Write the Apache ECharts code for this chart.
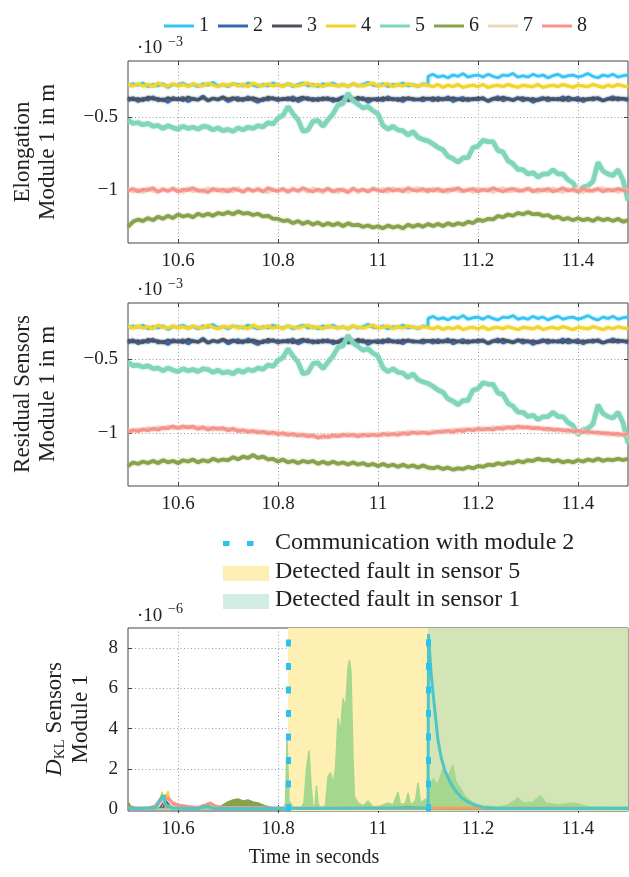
<!DOCTYPE html>
<html><head><meta charset="utf-8">
<script src="https://cdn.jsdelivr.net/npm/echarts@6/dist/echarts.min.js"></script>
<style>html,body{margin:0;padding:0;background:#fff}#c{width:629px;height:877px}</style>
</head><body><div id="c"></div>
<script>
// ---------- data (values in units of 1e-3 m for panels 1-2, 1e-6 for panel 3) ----------
const t = [10.50,10.51,10.52,10.53,10.54,10.55,10.56,10.57,10.58,10.59,
  10.60,10.61,10.62,10.63,10.64,10.65,10.66,10.67,10.68,10.69,
  10.70,10.71,10.72,10.73,10.74,10.75,10.76,10.77,10.78,10.79,
  10.80,10.81,10.82,10.83,10.84,10.85,10.86,10.87,10.88,10.89,
  10.90,10.91,10.92,10.93,10.94,10.95,10.96,10.97,10.98,10.99,
  11.00,11.01,11.02,11.03,11.04,11.05,11.06,11.07,11.08,11.09,
  11.10,11.10,11.11,11.12,11.13,11.14,11.15,11.16,11.17,11.18,
  11.19,11.20,11.21,11.22,11.23,11.24,11.25,11.26,11.27,11.28,
  11.29,11.30,11.31,11.32,11.33,11.34,11.35,11.36,11.37,11.38,
  11.39,11.40,11.41,11.42,11.43,11.44,11.45,11.46,11.47,11.48,
  11.49,11.50];
const s1 = [-0.29,-0.275,-0.285,-0.27,-0.295,-0.28,-0.29,-0.275,-0.3,-0.28,
  -0.285,-0.27,-0.29,-0.28,-0.295,-0.275,-0.285,-0.265,-0.29,-0.28,
  -0.295,-0.275,-0.28,-0.29,-0.27,-0.285,-0.295,-0.28,-0.29,-0.27,
  -0.285,-0.29,-0.275,-0.295,-0.28,-0.27,-0.29,-0.28,-0.295,-0.275,
  -0.285,-0.27,-0.29,-0.28,-0.295,-0.275,-0.29,-0.28,-0.265,-0.285,
  -0.29,-0.275,-0.295,-0.28,-0.285,-0.27,-0.29,-0.28,-0.295,-0.275,
  -0.285,-0.225,-0.21,-0.23,-0.22,-0.235,-0.215,-0.225,-0.205,-0.23,
  -0.22,-0.215,-0.23,-0.21,-0.225,-0.235,-0.215,-0.22,-0.205,-0.23,
  -0.22,-0.23,-0.21,-0.225,-0.215,-0.235,-0.22,-0.21,-0.23,-0.22,
  -0.215,-0.23,-0.22,-0.205,-0.225,-0.235,-0.215,-0.225,-0.21,-0.23,
  -0.22,-0.215];
const s2 = [-0.39,-0.37,-0.395,-0.375,-0.385,-0.365,-0.39,-0.38,-0.4,-0.37,
  -0.385,-0.37,-0.395,-0.375,-0.385,-0.36,-0.39,-0.375,-0.385,-0.37,
  -0.395,-0.38,-0.37,-0.39,-0.365,-0.385,-0.4,-0.375,-0.385,-0.37,
  -0.39,-0.375,-0.385,-0.365,-0.395,-0.38,-0.37,-0.39,-0.375,-0.385,
  -0.37,-0.395,-0.38,-0.365,-0.39,-0.375,-0.385,-0.37,-0.4,-0.38,
  -0.375,-0.39,-0.365,-0.385,-0.375,-0.395,-0.37,-0.385,-0.38,-0.39,
  -0.375,-0.375,-0.39,-0.37,-0.385,-0.365,-0.395,-0.38,-0.37,-0.39,
  -0.375,-0.385,-0.37,-0.395,-0.38,-0.365,-0.39,-0.375,-0.385,-0.37,
  -0.39,-0.375,-0.4,-0.38,-0.37,-0.39,-0.375,-0.385,-0.365,-0.39,
  -0.38,-0.37,-0.395,-0.375,-0.385,-0.37,-0.39,-0.38,-0.365,-0.385,
  -0.375,-0.39];
const s3 = [-0.37,-0.385,-0.375,-0.39,-0.365,-0.38,-0.375,-0.39,-0.37,-0.385,
  -0.375,-0.39,-0.365,-0.38,-0.385,-0.37,-0.39,-0.375,-0.38,-0.365,
  -0.38,-0.37,-0.39,-0.375,-0.385,-0.37,-0.38,-0.39,-0.365,-0.38,
  -0.375,-0.385,-0.37,-0.39,-0.375,-0.365,-0.385,-0.375,-0.39,-0.37,
  -0.385,-0.375,-0.39,-0.37,-0.38,-0.39,-0.365,-0.385,-0.375,-0.38,
  -0.39,-0.37,-0.385,-0.375,-0.39,-0.37,-0.38,-0.375,-0.385,-0.37,
  -0.38,-0.38,-0.37,-0.39,-0.375,-0.385,-0.37,-0.38,-0.39,-0.375,
  -0.385,-0.37,-0.38,-0.39,-0.375,-0.385,-0.365,-0.38,-0.39,-0.375,
  -0.37,-0.385,-0.375,-0.39,-0.38,-0.37,-0.385,-0.375,-0.39,-0.365,
  -0.38,-0.39,-0.375,-0.385,-0.37,-0.38,-0.39,-0.375,-0.385,-0.37,
  -0.38,-0.375];
const s4 = [-0.28,-0.29,-0.275,-0.29,-0.28,-0.295,-0.27,-0.285,-0.29,-0.275,
  -0.29,-0.28,-0.295,-0.275,-0.285,-0.29,-0.27,-0.285,-0.295,-0.28,
  -0.285,-0.275,-0.29,-0.28,-0.295,-0.27,-0.285,-0.29,-0.275,-0.29,
  -0.28,-0.295,-0.275,-0.285,-0.29,-0.28,-0.27,-0.29,-0.28,-0.295,
  -0.275,-0.285,-0.29,-0.28,-0.295,-0.275,-0.285,-0.29,-0.28,-0.27,
  -0.29,-0.285,-0.275,-0.295,-0.28,-0.29,-0.275,-0.285,-0.29,-0.28,
  -0.285,-0.29,-0.295,-0.28,-0.3,-0.285,-0.295,-0.28,-0.3,-0.29,
  -0.285,-0.295,-0.28,-0.3,-0.29,-0.285,-0.295,-0.28,-0.29,-0.3,
  -0.285,-0.29,-0.295,-0.28,-0.3,-0.29,-0.285,-0.295,-0.28,-0.29,
  -0.3,-0.285,-0.29,-0.295,-0.28,-0.29,-0.3,-0.285,-0.295,-0.28,
  -0.29,-0.295];
const s5 = [-0.52,-0.545,-0.54,-0.555,-0.545,-0.565,-0.56,-0.58,-0.56,-0.575,
  -0.585,-0.565,-0.58,-0.57,-0.585,-0.565,-0.57,-0.59,-0.575,-0.595,
  -0.585,-0.6,-0.575,-0.59,-0.57,-0.58,-0.56,-0.57,-0.54,-0.55,
  -0.51,-0.49,-0.43,-0.48,-0.52,-0.6,-0.59,-0.53,-0.525,-0.565,
  -0.52,-0.48,-0.42,-0.41,-0.34,-0.39,-0.415,-0.44,-0.43,-0.46,
  -0.48,-0.56,-0.585,-0.565,-0.59,-0.595,-0.625,-0.6,-0.64,-0.655,
  -0.665,-0.675,-0.685,-0.71,-0.725,-0.77,-0.785,-0.81,-0.78,-0.78,
  -0.71,-0.7,-0.66,-0.67,-0.67,-0.73,-0.74,-0.8,-0.82,-0.86,
  -0.86,-0.89,-0.88,-0.91,-0.89,-0.89,-0.86,-0.89,-0.89,-0.93,
  -0.95,-1.01,-0.98,-0.97,-0.94,-0.81,-0.87,-0.89,-0.9,-0.86,
  -0.93,-1.07];
const s6 = [-1.25,-1.215,-1.2,-1.21,-1.19,-1.205,-1.18,-1.195,-1.175,-1.19,
  -1.165,-1.18,-1.17,-1.185,-1.16,-1.175,-1.16,-1.175,-1.155,-1.165,
  -1.15,-1.165,-1.145,-1.16,-1.155,-1.17,-1.16,-1.18,-1.175,-1.195,
  -1.195,-1.21,-1.205,-1.225,-1.21,-1.23,-1.215,-1.235,-1.22,-1.24,
  -1.225,-1.24,-1.225,-1.245,-1.225,-1.24,-1.235,-1.25,-1.24,-1.255,
  -1.245,-1.26,-1.24,-1.255,-1.245,-1.26,-1.235,-1.25,-1.235,-1.25,
  -1.23,-1.235,-1.245,-1.23,-1.245,-1.225,-1.24,-1.225,-1.235,-1.215,
  -1.225,-1.2,-1.21,-1.195,-1.2,-1.175,-1.185,-1.165,-1.175,-1.155,
  -1.165,-1.15,-1.165,-1.16,-1.175,-1.17,-1.19,-1.18,-1.2,-1.19,
  -1.205,-1.19,-1.205,-1.195,-1.21,-1.19,-1.205,-1.195,-1.21,-1.195,
  -1.215,-1.205];
const s7 = [-0.99,-1.01,-0.995,-1.015,-0.985,-1.005,-1.015,-0.99,-1.01,-0.985,
  -1.0,-1.015,-0.985,-1.01,-0.995,-1.015,-0.985,-1.005,-0.99,-1.015,
  -0.99,-1.01,-0.985,-1.015,-0.995,-1.01,-0.985,-1.005,-1.015,-0.99,
  -1.01,-0.995,-1.015,-0.985,-1.01,-0.99,-1.015,-0.985,-1.005,-1.015,
  -0.985,-1.005,-1.015,-0.99,-1.01,-0.985,-1.015,-0.995,-1.01,-0.985,
  -1.01,-0.99,-1.015,-0.985,-1.005,-0.99,-1.015,-0.995,-0.985,-1.01,
  -0.99,-1.015,-0.985,-1.01,-0.995,-1.015,-0.985,-1.005,-1.01,-0.99,
  -1.015,-0.985,-1.005,-0.99,-1.015,-0.995,-0.985,-1.01,-1.005,-0.99,
  -1.01,-0.985,-0.995,-1.015,-0.99,-1.01,-0.985,-1.005,-1.015,-0.99,
  -1.005,-0.985,-1.015,-0.99,-1.01,-0.995,-0.985,-1.01,-0.99,-1.015,
  -0.995,-1.005];
const s8 = [-1.005,-0.99,-1.01,-0.995,-1.0,-0.985,-1.01,-0.995,-1.005,-0.99,
  -1.01,-0.995,-1.0,-0.985,-1.005,-1.0,-1.015,-0.99,-1.005,-0.995,
  -1.01,-0.99,-1.0,-1.01,-0.99,-1.005,-0.995,-1.01,-0.985,-1.0,
  -1.005,-0.99,-1.01,-0.995,-1.005,-0.985,-1.0,-1.01,-0.995,-1.005,
  -0.99,-1.01,-0.995,-1.0,-1.015,-0.99,-1.005,-0.995,-1.01,-0.99,
  -1.0,-1.01,-0.99,-1.005,-0.995,-1.01,-0.985,-1.0,-1.005,-0.99,
  -1.01,-0.995,-1.005,-0.99,-1.01,-0.995,-1.0,-0.985,-1.005,-1.0,
  -0.99,-1.01,-0.995,-1.005,-0.985,-1.0,-1.01,-0.995,-0.99,-1.005,
  -1.0,-0.99,-1.01,-0.995,-1.005,-0.99,-1.01,-1.0,-0.985,-1.005,
  -0.995,-1.01,-0.99,-1.005,-1.0,-0.99,-1.01,-0.995,-1.005,-0.99,
  -1.0,-1.01];
// residual panel: sensors 6, 7, 8 differ
const r6 = [-1.225,-1.2,-1.21,-1.195,-1.205,-1.19,-1.205,-1.185,-1.2,-1.19,
  -1.205,-1.185,-1.195,-1.18,-1.2,-1.185,-1.195,-1.175,-1.19,-1.18,
  -1.185,-1.165,-1.18,-1.16,-1.17,-1.15,-1.17,-1.16,-1.18,-1.175,
  -1.195,-1.18,-1.2,-1.19,-1.205,-1.19,-1.2,-1.19,-1.21,-1.195,
  -1.21,-1.195,-1.21,-1.2,-1.215,-1.2,-1.215,-1.205,-1.22,-1.21,
  -1.225,-1.21,-1.225,-1.215,-1.23,-1.215,-1.23,-1.22,-1.235,-1.22,
  -1.235,-1.225,-1.24,-1.23,-1.245,-1.235,-1.25,-1.24,-1.245,-1.23,
  -1.24,-1.225,-1.23,-1.215,-1.22,-1.205,-1.215,-1.2,-1.205,-1.19,
  -1.2,-1.185,-1.19,-1.175,-1.185,-1.18,-1.195,-1.185,-1.2,-1.19,
  -1.2,-1.185,-1.195,-1.18,-1.19,-1.175,-1.19,-1.18,-1.185,-1.175,
  -1.185,-1.175];
const r7 = [-0.985,-0.99,-0.975,-0.985,-0.965,-0.98,-0.96,-0.975,-0.955,-0.97,
  -0.96,-0.97,-0.955,-0.97,-0.96,-0.975,-0.96,-0.98,-0.965,-0.98,
  -0.97,-0.985,-0.975,-0.995,-0.98,-1.0,-0.985,-1.005,-0.99,-1.01,
  -0.995,-1.015,-1.0,-1.02,-1.005,-1.025,-1.01,-1.03,-1.02,-1.035,
  -1.015,-1.03,-1.01,-1.025,-1.005,-1.025,-1.01,-1.025,-1.005,-1.02,
  -1.005,-1.02,-1.0,-1.015,-0.995,-1.01,-0.99,-1.005,-0.99,-1.005,
  -0.99,-1.005,-0.985,-1.0,-0.98,-0.995,-0.975,-0.99,-0.97,-0.985,
  -0.97,-0.985,-0.965,-0.98,-0.96,-0.975,-0.955,-0.97,-0.955,-0.97,
  -0.955,-0.97,-0.96,-0.975,-0.965,-0.985,-0.97,-0.99,-0.975,-0.995,
  -0.98,-1.0,-0.985,-1.005,-0.99,-1.01,-0.995,-1.015,-1.0,-1.02,
  -1.005,-1.02];
const r8 = [-0.995,-0.98,-0.99,-0.975,-0.985,-0.97,-0.98,-0.965,-0.97,-0.955,
  -0.97,-0.955,-0.965,-0.955,-0.975,-0.96,-0.98,-0.965,-0.975,-0.965,
  -0.985,-0.97,-0.99,-0.98,-0.995,-0.985,-1.0,-0.99,-1.005,-0.995,
  -1.01,-1.0,-1.015,-1.005,-1.02,-1.01,-1.025,-1.015,-1.035,-1.02,
  -1.03,-1.015,-1.025,-1.01,-1.02,-1.01,-1.025,-1.01,-1.02,-1.01,
  -1.02,-1.005,-1.015,-1.005,-1.015,-1.0,-1.01,-0.995,-1.005,-0.995,
  -1.005,-0.995,-1.0,-0.99,-0.995,-0.985,-0.995,-0.98,-0.99,-0.975,
  -0.985,-0.97,-0.98,-0.97,-0.98,-0.965,-0.975,-0.96,-0.97,-0.955,
  -0.965,-0.96,-0.97,-0.965,-0.975,-0.97,-0.98,-0.975,-0.985,-0.98,
  -0.99,-0.985,-0.995,-0.99,-1.0,-0.995,-1.005,-1.0,-1.01,-1.005,
  -1.015,-1.01];
// D_KL (x 1e-6), [time, value]
const d1 = [[10.5,0.02],[10.555,0.05],[10.57,0.7],[10.575,0.2],[10.59,0.05],[10.64,0.02],[10.66,0.15],[10.67,0.03],[10.81,0.02],[11.1,0.05],
  [11.101,8.7],[11.106,6.8],[11.112,5.3],[11.12,3.4],[11.127,2.5],[11.134,1.9],[11.145,1.3],[11.155,0.9],[11.168,0.55],[11.18,0.35],
  [11.195,0.18],[11.21,0.08],[11.24,0.03],[11.5,0.02]];
const d2 = [[10.5,0.01],[10.565,0.05],[10.575,0.7],[10.58,0.1],[10.64,0.02],[10.65,0.2],[10.655,0.02],[11.5,0.01]];
const d3 = [[10.5,0.01],[10.57,0.05],[10.578,0.5],[10.585,0.05],[11.5,0.01]];
const d4 = [[10.5,0.01],[10.56,0.05],[10.568,0.85],[10.572,0.3],[10.58,0.9],[10.585,0.2],[10.6,0.05],[10.66,0.05],[10.665,0.25],[10.67,0.05],[11.5,0.01]];
const d5 = [[10.5,0],[10.81,0],[10.815,0.3],[10.818,3.5],[10.822,0.4],[10.83,0.1],[10.845,0],[10.852,0.3],[10.857,2.0],[10.862,2.9],
  [10.866,1.2],[10.87,0.1],[10.874,0.2],[10.877,1.15],[10.88,0.3],[10.885,0],[10.895,0.2],[10.9,1.6],[10.905,1.8],[10.91,1.3],
  [10.915,2.0],[10.92,4.5],[10.925,3.8],[10.93,5.5],[10.935,5.0],[10.94,7.0],[10.943,7.4],[10.946,6.8],[10.95,2.5],[10.953,0.6],
  [10.96,0.3],[10.97,0.15],[10.98,0.4],[10.99,0.1],[11.0,0.1],[11.02,0.3],[11.03,0.2],[11.04,0.85],[11.045,0.2],[11.055,0.3],
  [11.06,0.8],[11.065,0.2],[11.075,0.4],[11.08,1.3],[11.085,0.3],[11.095,0.5],[11.1,0.2],[11.105,1.0],[11.11,1.5],[11.12,1.2],
  [11.13,2.0],[11.14,1.6],[11.15,2.2],[11.155,1.4],[11.165,1.0],[11.175,0.6],[11.19,0.3],[11.21,0.15],[11.24,0.1],[11.26,0.2],
  [11.275,0.45],[11.28,0.55],[11.29,0.3],[11.31,0.35],[11.325,0.65],[11.335,0.3],[11.36,0.2],[11.39,0.3],[11.42,0.12],[11.46,0.1],[11.5,0.1]];
const d6 = [[10.5,0.35],[10.505,0.15],[10.52,0.03],[10.68,0.03],[10.69,0.2],[10.70,0.35],[10.71,0.45],[10.72,0.5],[10.73,0.4],[10.74,0.45],
  [10.75,0.35],[10.76,0.3],[10.775,0.15],[10.79,0.05],[10.81,0.03],[10.95,0.03],[10.99,0.1],[11.0,0.12],[11.02,0.06],[11.06,0.12],[11.1,0.05],[11.5,0.03]];
const d7 = [[10.5,0.02],[10.56,0.1],[10.575,0.55],[10.59,0.1],[11.5,0.02]];
const d8 = [[10.5,0.05],[10.54,0.05],[10.555,0.15],[10.565,0.5],[10.57,0.6],[10.575,0.45],[10.58,0.55],[10.59,0.3],[10.6,0.2],[10.62,0.12],
  [10.64,0.08],[10.655,0.2],[10.665,0.3],[10.675,0.15],[10.69,0.06],[10.75,0.05],[11.5,0.05]];
const names = ['1','2','3','4','5','6','7','8'];
const xTicks = [10.6, 10.8, 11, 11.2, 11.4];
const yTicksM = [-1, -0.5];
const yTicksD = [0, 2, 4, 6, 8];
const commTimes = [10.82, 11.1];
const fault5 = [10.82, 11.1];
const fault1 = [11.1, 11.5];

// ---------- styling ----------
const FONT = 'Liberation Serif';
const colors = ['#35c4f4','#3568aa','#4b525e','#f4d32a','#80d5bb','#87a24a','#ebd7bf','#f7928c'];
const widths = [2.5,3,2.5,3,4.5,3.5,3,3];
const fmtX = v => String(+v.toFixed(1));
const fmtY = v => (v < 0 ? '\u2212' : '') + String(+Math.abs(v).toFixed(1));
const grids = [
  {left:128, top:61, width:500, height:182},
  {left:128, top:303, width:500, height:183},
  {left:128, top:628, width:500, height:183}
].map(g => Object.assign(g, {show:true, borderColor:'#444', borderWidth:1, backgroundColor:'transparent', outerBoundsMode:'none'}));

function xAx(gi, bottom) {
  return {type:'value', gridIndex:gi, position: bottom ? 'bottom' : 'top', min:10.5, max:11.5,
    axisLine:{show:false},
    axisTick:{show:true, inside:true, length:4, lineStyle:{color:'#444'}, customValues:xTicks},
    axisLabel:{show:bottom, customValues:xTicks, margin:9, fontFamily:FONT, fontSize:19, color:'#222', formatter:fmtX},
    splitLine:{show:bottom, lineStyle:{color:'#9a9a9a', type:[1,2.5], width:1}}};
}
function yAx(gi, left, min, max, ticks, fmt) {
  return {type:'value', gridIndex:gi, position: left ? 'left' : 'right', min:min, max:max,
    axisLine:{show:false},
    axisTick:{show:true, inside:true, length:4, lineStyle:{color:'#444'}, customValues:ticks},
    axisLabel:{show:left, customValues:ticks, margin:10, fontFamily:FONT, fontSize:19, color:'#222', formatter:fmt},
    splitLine:{show:left, lineStyle:{color:'#9a9a9a', type:[1,2.5], width:1}}};
}
const xAxis = [xAx(0,true), xAx(1,true), xAx(2,true), xAx(0,false), xAx(1,false), xAx(2,false)];
const yAxis = [yAx(0,true,-1.36,-0.12,yTicksM,fmtY), yAx(1,true,-1.36,-0.12,yTicksM,fmtY), yAx(2,true,-0.1,9,yTicksD,fmtX),
  yAx(0,false,-1.36,-0.12,yTicksM,fmtY), yAx(1,false,-1.36,-0.12,yTicksM,fmtY), yAx(2,false,-0.1,9,yTicksD,fmtX)];

const zip = ys => t.map((x, i) => [x, ys[i]]);
const series = [];
const panel1 = [s1,s2,s3,s4,s5,s6,s7,s8];
const panel2 = [s1,s2,s3,s4,s5,r6,r7,r8];
[panel1, panel2].forEach((arr, gi) => {
  arr.forEach((ys, k) => {
    series.push({type:'line', name:names[k], xAxisIndex:gi, yAxisIndex:gi, data:zip(ys),
      showSymbol:false, symbol:'none', silent:true, z:2+k*0.01,
      lineStyle:{color:colors[k], width:widths[k], shadowColor:colors[k], shadowBlur:2},
      itemStyle:{color:colors[k]}});
  });
});
// shading (below grid lines)
series.push({type:'line', name:'shade', xAxisIndex:2, yAxisIndex:2, data:[], z:-1, silent:true,
  markArea:{silent:true, data:[
    [{xAxis:fault5[0], itemStyle:{color:'#fef0b3'}}, {xAxis:fault5[1]}],
    [{xAxis:fault1[0], itemStyle:{color:'#d3e5b6'}}, {xAxis:fault1[1]}]]}});
// D_KL series
const dkl = [d1,d2,d3,d4,d5,d6,d7,d8];
const pinkOrange = {type:'linear', x:0, y:0, x2:629, y2:0, global:true, colorStops:[
  {offset:0, color:'#f7928c'}, {offset:0.455, color:'#f7928c'}, {offset:0.457, color:'#eca35f'}, {offset:1, color:'#eca35f'}]};
const dColors = ['#4ec6c6','#3568aa','#4b525e','#f4d32a','#a6d78e','#87a24a','#ebd7bf',pinkOrange];
const dOrder = [1,2,3,6,5,7,4,0];
dOrder.forEach(k => {
  series.push({type:'line', name:names[k], xAxisIndex:2, yAxisIndex:2, data:dkl[k],
    showSymbol:false, symbol:'none', silent:true, z:3,
    lineStyle:{color:dColors[k], width:(k===0?3:(k===7?3:1.5))},
    itemStyle:{color:colors[k]},
    areaStyle:(k===0 ? undefined : {color:dColors[k], opacity:1})});
});
// communication with module 2
series.push({type:'line', name:'comm', xAxisIndex:2, yAxisIndex:2, data:[], z:10, silent:true,
  markLine:{silent:true, symbol:['none','none'], label:{show:false},
    lineStyle:{color:'#29c3f2', width:5, type:[7,16.5], opacity:1},
    data: commTimes.map(v => ({xAxis:v}))}});

const txt = (x, y, s, size, extra) => Object.assign({type:'text', x:x, y:y, silent:true,
  style:Object.assign({text:s, fontFamily:FONT, fontSize:size, fill:'#222', verticalAlign:'middle', align:'left'}, extra||{})});
const graphic = [
  txt(137, 48, '\u00b710', 19), txt(168, 42, '\u22123', 14),
  txt(137, 290, '\u00b710', 19), txt(168, 284, '\u22123', 14),
  txt(137, 616, '\u00b710', 19), txt(168, 609, '\u22126', 14),
  Object.assign(txt(35, 152, 'Elongation\nModule 1 in m', 23, {align:'center', lineHeight:25}), {rotation:Math.PI/2}),
  Object.assign(txt(35, 394, 'Residual Sensors\nModule 1 in m', 23, {align:'center', lineHeight:25}), {rotation:Math.PI/2}),
  Object.assign(txt(68, 719, '{d|D}{s|KL} Sensors\nModule 1', 23, {align:'center', lineHeight:26,
    rich:{d:{fontStyle:'italic', fontFamily:FONT, fontSize:23}, s:{fontFamily:FONT, fontSize:15, padding:[11,0,0,0]}}}), {rotation:Math.PI/2}),
  txt(314, 858, 'Time in seconds', 20, {align:'center'}),
  {type:'line', silent:true, shape:{x1:223, y1:543.5, x2:269, y2:543.5}, style:{stroke:'#29c3f2', lineWidth:5, lineDash:[6.5,17.5]}},
  {type:'rect', silent:true, shape:{x:223, y:566, width:46, height:15}, style:{fill:'#fdefb4'}},
  {type:'rect', silent:true, shape:{x:223, y:594, width:46, height:15}, style:{fill:'#d3ede3'}},
  txt(275, 543, 'Communication with module 2', 24),
  txt(275, 572, 'Detected fault in sensor 5', 24),
  txt(275, 600, 'Detected fault in sensor 1', 24)
];

const chart = echarts.init(document.getElementById('c'), null, {renderer:'canvas'});
chart.setOption({
  animation:false,
  backgroundColor:'#fff',
  grid:grids, xAxis:xAxis, yAxis:yAxis, series:series, graphic:graphic,
  legend:{left:159, top:11, icon:'rect', itemWidth:30, itemHeight:3, itemGap:9, data:names,
    textStyle:{fontFamily:FONT, fontSize:20, color:'#222'}, selectedMode:false}
});
</script></body></html>
